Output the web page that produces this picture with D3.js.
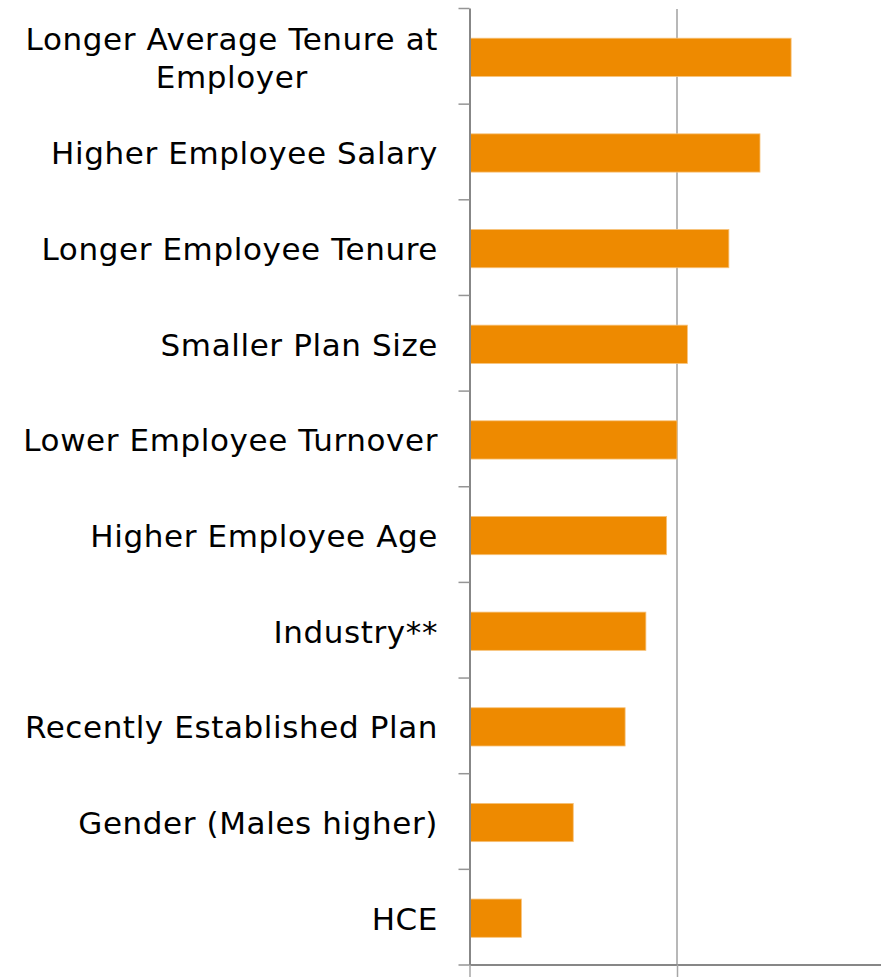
<!DOCTYPE html>
<html>
<head>
<meta charset="utf-8">
<script src="https://cdn.jsdelivr.net/npm/d3@7"></script>
<style>
  html, body { margin: 0; padding: 0; background: #fff; }
  svg { display: block; }
  .label { font-family: "DejaVu Sans", Verdana, sans-serif; font-size: 31px; letter-spacing: 0.6px; fill: #000; }
</style>
</head>
<body>
<svg id="chart" width="881" height="977"></svg>
<script>
// Drivers, top to bottom, and their relative effect sizes
const categories = [
  "Longer Average Tenure at Employer",
  "Higher Employee Salary",
  "Longer Employee Tenure",
  "Smaller Plan Size",
  "Lower Employee Turnover",
  "Higher Employee Age",
  "Industry**",
  "Recently Established Plan",
  "Gender (Males higher)",
  "HCE"
];
const values = [1.55, 1.40, 1.25, 1.05, 1.00, 0.95, 0.85, 0.75, 0.50, 0.25];
// Wrapped label lines for the long first category
const labelLines = {
  "Longer Average Tenure at Employer": ["Longer Average Tenure at", "Employer"]
};
const xTicks = [0, 1, 2];

const svg = d3.select("#chart");
const axisColor = "#878787";
const x0 = 469.5, x1 = 884.5, yTop = 8, yBottom = 964.5;

const x = d3.scaleLinear().domain([0, 2]).range([x0, x1]);
const y = d3.scaleBand().domain(categories).range([yTop + 1.5, yBottom + 1.5])
  .paddingInner(0.6).paddingOuter(0.3);

// Category boundary ticks on the left axis
const slot = d3.scaleLinear().domain([0, categories.length]).range([yTop, yBottom]);

// Vertical gridlines
svg.append("g").selectAll("line")
  .data(xTicks.filter(d => d > 0))
  .join("line")
  .attr("x1", d => x(d)).attr("x2", d => x(d))
  .attr("y1", yTop + 1).attr("y2", yBottom)
  .attr("stroke", "#9a9a9a").attr("stroke-width", 1.4);

// Bars
svg.append("g").selectAll("rect")
  .data(categories)
  .join("rect")
  .attr("x", x(0) + 1)
  .attr("y", d => y(d))
  .attr("width", (d, i) => x(values[i]) - x(0) - 1)
  .attr("height", y.bandwidth())
  .attr("fill", "#ee8a00")
  .attr("stroke", "#f7c27a").attr("stroke-width", 0.8);

// Bottom axis
const xAxis = svg.append("g")
  .attr("transform", `translate(0,${yBottom})`)
  .call(d3.axisBottom(x).tickValues(xTicks).tickSize(13).tickFormat("").tickSizeOuter(0));
xAxis.select(".domain").attr("stroke", axisColor).attr("stroke-width", 2);
xAxis.selectAll(".tick line").attr("stroke", "#a6a6a6").attr("stroke-width", 1.5);

// Left axis
const yAxis = svg.append("g")
  .attr("transform", `translate(${x0},0)`)
  .call(d3.axisLeft(slot).tickValues(d3.range(categories.length + 1)).tickSize(11).tickFormat("").tickSizeOuter(0));
yAxis.select(".domain").attr("stroke", axisColor).attr("stroke-width", 2);
yAxis.selectAll(".tick line").attr("stroke", "#959595").attr("stroke-width", 1.5);

// Category labels, right-aligned block with centred lines
const labelRight = 438;
const capHalf = 11.5, lineGap = 38;
const lg = svg.append("g");
categories.forEach(c => {
  const lines = labelLines[c] || [c];
  const cy = y(c) + y.bandwidth() / 2;
  const t = lg.append("text").attr("class", "label");
  const firstBase = cy + capHalf - (lines.length - 1) * lineGap / 2;
  lines.forEach((ln, i) => {
    t.append("tspan").attr("y", firstBase + i * lineGap).text(ln);
  });
  // measure and right-align the block, centring each line within it
  const widths = t.selectAll("tspan").nodes().map(n => n.getComputedTextLength());
  const blockW = d3.max(widths);
  const center = labelRight - blockW / 2;
  t.attr("text-anchor", "middle");
  t.selectAll("tspan").attr("x", center);
});
</script>
</body>
</html>
